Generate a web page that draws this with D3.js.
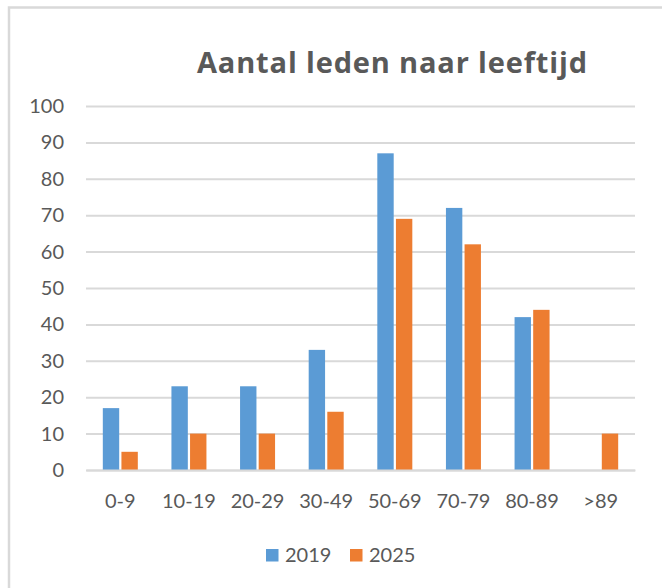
<!DOCTYPE html>
<html>
<head>
<meta charset="utf-8">
<script src="https://cdn.jsdelivr.net/npm/d3@7"></script>
<style>
  body { margin: 0; background: #fff; }
  svg { display: block; font-family: Lato, "Open Sans", sans-serif; }
</style>
</head>
<body>
<svg width="662" height="588"></svg>
<script>
const categories = ['0-9', '10-19', '20-29', '30-49', '50-69', '70-79', '80-89', '>89'];
const series = ['2019', '2025'];
const values2019 = [17, 23, 23, 33, 87, 72, 42, 0];
const values2025 = [5, 10, 10, 16, 69, 62, 44, 10];
const yTicks = [0, 10, 20, 30, 40, 50, 60, 70, 80, 90, 100];

const data = categories.map((c, i) => ({ cat: c, '2019': values2019[i], '2025': values2025[i] }));

const svg = d3.select('svg');
const textColor = '#595959';

// chart frame (only top and left edge show in the crop)
svg.append('path')
  .attr('d', 'M9,588 V7.5 H662')
  .attr('fill', 'none')
  .attr('stroke', '#d9d9d9')
  .attr('stroke-width', 2.5);

const x0 = d3.scaleBand().domain(categories).range([86, 635]);
const x1 = d3.scaleBand().domain(series)
  .range([x0.bandwidth() * 0.245, x0.bandwidth() * 0.755])
  .paddingInner(0.12);
const y = d3.scaleLinear().domain([0, 100]).range([470, 106]);
const color = d3.scaleOrdinal().domain(series).range(['#5b9bd5', '#ed7d31']);

// gridlines + y labels
const yAxis = svg.append('g')
  .attr('transform', 'translate(86,0)')
  .call(d3.axisLeft(y).tickValues(yTicks).tickSize(-(635 - 86)).tickPadding(22));
yAxis.select('.domain').remove();
yAxis.selectAll('.tick line').attr('stroke', '#d9d9d9').attr('stroke-width', 2);
yAxis.selectAll('.tick text')
  .attr('fill', textColor)
  .style('font-size', '20px')
  .style('font-family', 'Lato, sans-serif');

// bars
svg.append('g')
  .selectAll('g')
  .data(data)
  .join('g')
  .attr('transform', d => `translate(${x0(d.cat)},0)`)
  .selectAll('rect')
  .data(d => series.map(key => ({ key, value: d[key] })))
  .join('rect')
  .attr('x', d => x1(d.key))
  .attr('y', d => y(d.value))
  .attr('width', x1.bandwidth())
  .attr('height', d => y(0) - y(d.value))
  .attr('fill', d => color(d.key));

// x axis
const xAxis = svg.append('g')
  .attr('transform', 'translate(0,470)')
  .call(d3.axisBottom(x0).tickSize(0).tickPadding(24));
xAxis.select('.domain').attr('stroke', '#d9d9d9').attr('stroke-width', 2);
xAxis.selectAll('.tick text')
  .attr('fill', textColor)
  .style('font-size', '20px')
  .style('font-family', 'Lato, sans-serif');

// title
svg.append('text')
  .attr('x', 392)
  .attr('y', 73)
  .attr('text-anchor', 'middle')
  .attr('fill', textColor)
  .attr('textLength', 390)
  .attr('lengthAdjust', 'spacing')
  .style('font-family', '"Open Sans", sans-serif')
  .style('font-size', '29px')
  .style('font-weight', 'bold')
  .text('Aantal leden naar leeftijd');

// legend
const legend = svg.append('g')
  .selectAll('g')
  .data(series)
  .join('g')
  .attr('transform', (d, i) => `translate(${266 + i * 84},549)`);
legend.append('rect')
  .attr('width', 12.5)
  .attr('height', 12.5)
  .attr('fill', d => color(d));
legend.append('text')
  .attr('x', 19)
  .attr('y', 13)
  .attr('fill', textColor)
  .style('font-size', '20px')
  .text(d => d);
</script>
</body>
</html>
